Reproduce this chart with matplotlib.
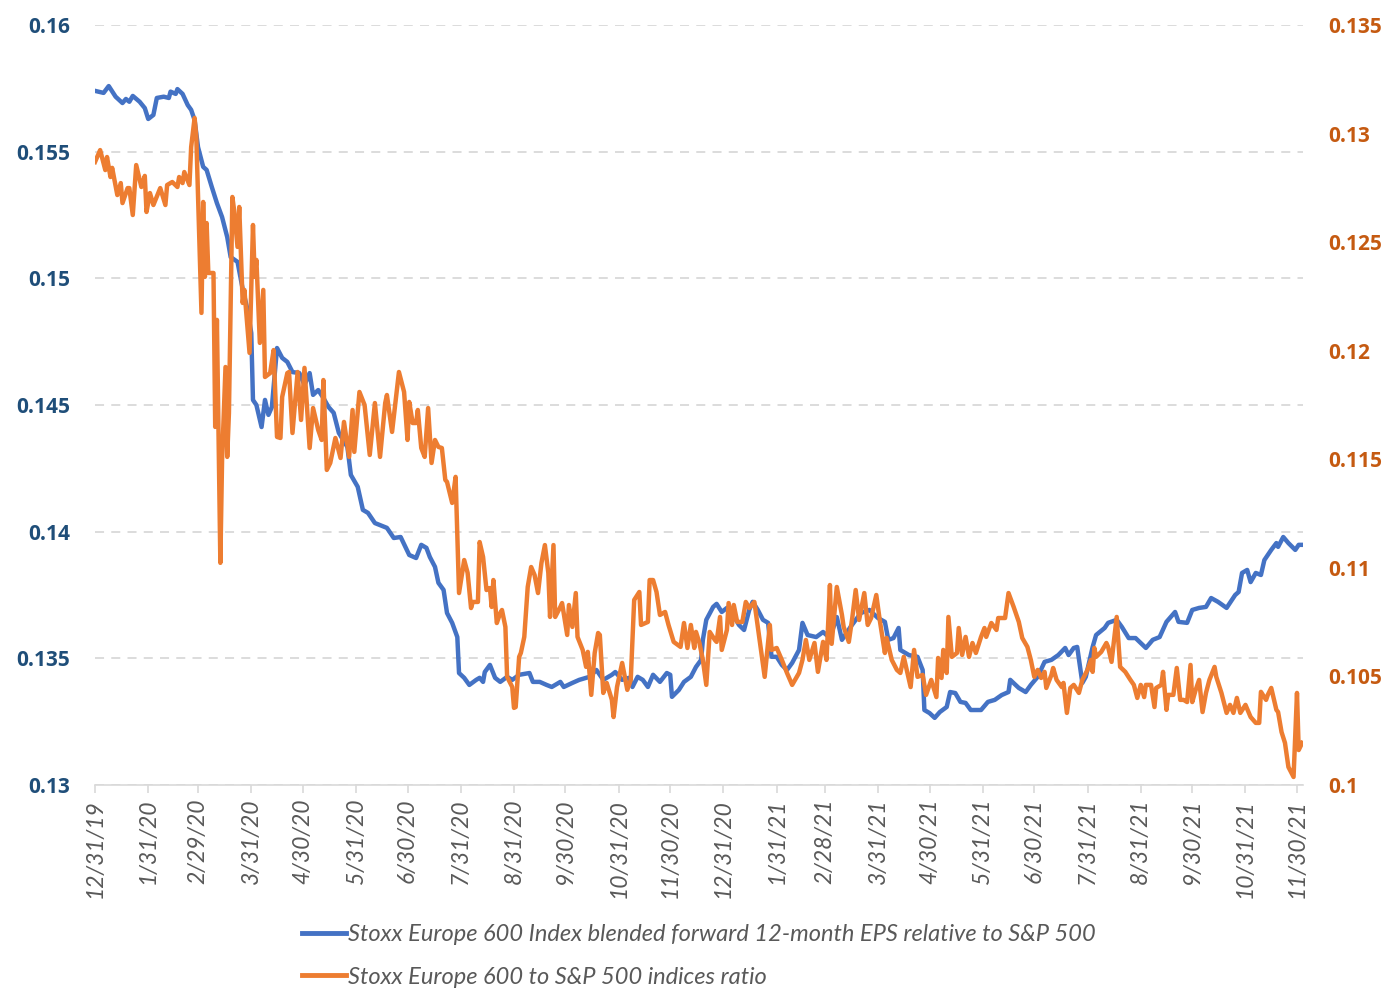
import numpy as np
import pandas as pd
import matplotlib
matplotlib.use('Agg')
import matplotlib.pyplot as plt

# days counted from 12/31/2019
start_date = '2019-12-31'

eps_days = [
    0, 5, 8, 12, 16, 18, 20, 22, 26, 29,
    31, 34, 36, 40, 43, 44, 47, 48, 51, 54,
    56, 58, 60, 63, 65, 68, 71, 74, 77, 79,
    83, 86, 89, 91, 92, 94, 97, 99, 101, 103,
    106, 109, 112, 115, 119, 122, 125, 127, 130, 133,
    136, 139, 142, 147, 149, 153, 156, 159, 163, 170,
    174, 178, 183, 187, 190, 193, 195, 198, 200, 203,
    205, 208, 211, 212, 215, 218, 222, 224, 226, 227,
    230, 233, 236, 240, 243, 247, 253, 255, 259, 263,
    266, 271, 273, 278, 282, 288, 292, 296, 301, 303,
    307, 311, 313, 316, 319, 322, 325, 329, 333, 335,
    336, 340, 343, 347, 350, 353, 354, 356, 360, 362,
    365, 368, 371, 375, 378, 381, 383, 386, 389, 392,
    394, 397, 400, 403, 406, 410, 412, 415, 420, 424,
    428, 432, 435, 440, 446, 451, 456, 460, 462, 465,
    468, 469, 474, 479, 482, 483, 486, 489, 492, 496,
    498, 501, 504, 507, 510, 516, 520, 524, 528, 532,
    533, 538, 542, 545, 549, 553, 557, 561, 565, 567,
    570, 572, 575, 577, 581, 583, 588, 590, 595, 598,
    602, 606, 612, 616, 620, 624, 629, 631, 636, 639,
    643, 647, 650, 654, 659, 664, 666, 668, 671, 673,
    676, 679, 681, 685, 688, 689, 692, 695, 699, 701,
    703,
]
eps_ratio = [
    0.15740, 0.15732, 0.15759, 0.15717, 0.15692, 0.15708, 0.15697, 0.15720, 0.15697, 0.15672,
    0.15629, 0.15645, 0.15712, 0.15717, 0.15712, 0.15737, 0.15728, 0.15747, 0.15728, 0.15684,
    0.15665, 0.15625, 0.15518, 0.15440, 0.15428, 0.15361, 0.15297, 0.15242, 0.15163, 0.15084,
    0.15065, 0.14958, 0.14871, 0.14784, 0.14520, 0.14500, 0.14413, 0.14520, 0.14461, 0.14492,
    0.14725, 0.14686, 0.14670, 0.14630, 0.14626, 0.14579, 0.14626, 0.14540, 0.14559, 0.14528,
    0.14492, 0.14469, 0.14390, 0.14334, 0.14224, 0.14177, 0.14086, 0.14074, 0.14034, 0.14015,
    0.13975, 0.13979, 0.13908, 0.13896, 0.13948, 0.13936, 0.13900, 0.13861, 0.13798, 0.13770,
    0.13679, 0.13640, 0.13584, 0.13442, 0.13423, 0.13395, 0.13415, 0.13423, 0.13407, 0.13446,
    0.13474, 0.13423, 0.13407, 0.13427, 0.13415, 0.13435, 0.13442, 0.13407, 0.13407, 0.13395,
    0.13387, 0.13407, 0.13387, 0.13403, 0.13415, 0.13427, 0.13454, 0.13415, 0.13435, 0.13446,
    0.13415, 0.13423, 0.13387, 0.13427, 0.13415, 0.13387, 0.13435, 0.13407, 0.13442, 0.13435,
    0.13348, 0.13375, 0.13407, 0.13427, 0.13466, 0.13494, 0.13573, 0.13652, 0.13703, 0.13715,
    0.13683, 0.13699, 0.13679, 0.13632, 0.13612, 0.13691, 0.13723, 0.13691, 0.13652, 0.13640,
    0.13506, 0.13506, 0.13474, 0.13454, 0.13482, 0.13533, 0.13640, 0.13592, 0.13584, 0.13604,
    0.13580, 0.13663, 0.13573, 0.13624, 0.13679, 0.13691, 0.13659, 0.13644, 0.13573, 0.13580,
    0.13620, 0.13533, 0.13513, 0.13506, 0.13454, 0.13296, 0.13284, 0.13265, 0.13288, 0.13308,
    0.13367, 0.13363, 0.13328, 0.13324, 0.13296, 0.13296, 0.13328, 0.13336, 0.13355, 0.13367,
    0.13415, 0.13383, 0.13367, 0.13395, 0.13427, 0.13486, 0.13494, 0.13513, 0.13541, 0.13513,
    0.13541, 0.13545, 0.13403, 0.13427, 0.13545, 0.13592, 0.13620, 0.13640, 0.13652, 0.13624,
    0.13580, 0.13580, 0.13541, 0.13573, 0.13584, 0.13644, 0.13683, 0.13644, 0.13640, 0.13691,
    0.13699, 0.13703, 0.13738, 0.13723, 0.13699, 0.13750, 0.13762, 0.13837, 0.13849, 0.13801,
    0.13837, 0.13829, 0.13888, 0.13928, 0.13955, 0.13940, 0.13979, 0.13955, 0.13928, 0.13948,
    0.13948,
]

index_days = [
    0, 3, 6, 7, 9, 10, 13, 15, 16, 19,
    20, 22, 24, 27, 29, 30, 32, 34, 38, 41,
    42, 45, 48, 49, 51, 52, 55, 56, 58, 59,
    62, 63, 64, 65, 66, 69, 70, 71, 73, 74,
    76, 77, 78, 80, 81, 83, 84, 86, 87, 90,
    92, 93, 94, 96, 98, 99, 102, 104, 106, 108,
    109, 112, 113, 115, 118, 120, 122, 125, 127, 130,
    132, 133, 135, 137, 140, 143, 145, 148, 150, 151,
    154, 157, 160, 163, 166, 169, 170, 173, 177, 180,
    182, 183, 185, 187, 188, 190, 192, 194, 196, 198,
    200, 202, 204, 205, 208, 210, 212, 215, 217, 219,
    220, 223, 224, 226, 228, 230, 231, 232, 234, 236,
    237, 239, 240, 243, 244, 245, 247, 248, 250, 252,
    254, 256, 258, 260, 262, 264, 265, 267, 268, 271,
    272, 275, 276, 278, 280, 281, 284, 286, 287, 289,
    291, 293, 294, 296, 298, 301, 302, 304, 307, 310,
    312, 314, 317, 318, 322, 323, 325, 327, 329, 332,
    334, 337, 341, 343, 345, 347, 349, 350, 352, 354,
    356, 358, 361, 362, 364, 365, 368, 369, 371, 372,
    374, 377, 379, 381, 384, 386, 390, 393, 394, 397,
    400, 403, 406, 410, 412, 414, 416, 419, 421, 424,
    426, 428, 429, 432, 435, 436, 439, 441, 443, 445,
    448, 450, 452, 455, 457, 460, 461, 464, 467, 469,
    471, 473, 475, 477, 479, 482, 484, 487, 490, 491,
    493, 494, 496, 497, 499, 502, 503, 505, 507, 509,
    511, 513, 516, 518, 519, 522, 525, 526, 530, 532,
    535, 538, 540, 543, 545, 547, 549, 551, 553, 554,
    557, 558, 560, 563, 564, 566, 568, 570, 573, 575,
    578, 580, 581, 582, 583, 586, 589, 590, 592, 595,
    597, 600, 603, 605, 607, 609, 611, 612, 615, 617,
    618, 621, 622, 624, 625, 628, 630, 632, 634, 636,
    638, 639, 641, 643, 645, 647, 649, 652, 653, 656,
    659, 661, 663, 665, 667, 670, 673, 676, 678, 679,
    682, 683, 685, 688, 689, 691, 693, 695, 698, 700,
    701, 703,
]
index_ratio = [
    0.12869, 0.12924, 0.12832, 0.12892, 0.12800, 0.12842, 0.12717, 0.12772, 0.12680, 0.12749,
    0.12749, 0.12625, 0.12855, 0.12754, 0.12805, 0.12639, 0.12726, 0.12671, 0.12749, 0.12671,
    0.12763, 0.12777, 0.12754, 0.12800, 0.12772, 0.12823, 0.12763, 0.12938, 0.13072, 0.12984,
    0.12174, 0.12685, 0.12340, 0.12588, 0.12358, 0.12358, 0.11649, 0.12142, 0.11023, 0.11497,
    0.11925, 0.11511, 0.11713, 0.12708, 0.12648, 0.12478, 0.12662, 0.12220, 0.12280, 0.11990,
    0.12579, 0.12340, 0.12418, 0.12036, 0.12280, 0.11879, 0.11897, 0.12003, 0.11603, 0.11598,
    0.11787, 0.11897, 0.11902, 0.11621, 0.11902, 0.11681, 0.11921, 0.11552, 0.11736, 0.11635,
    0.11589, 0.11865, 0.11451, 0.11483, 0.11598, 0.11506, 0.11672, 0.11511, 0.11727, 0.11534,
    0.11810, 0.11750, 0.11520, 0.11759, 0.11511, 0.11759, 0.11796, 0.11626, 0.11902, 0.11810,
    0.11589, 0.11764, 0.11667, 0.11667, 0.11727, 0.11552, 0.11511, 0.11736, 0.11483, 0.11589,
    0.11557, 0.11552, 0.11405, 0.11396, 0.11299, 0.11419, 0.10884, 0.11036, 0.10977, 0.10815,
    0.10843, 0.10843, 0.11119, 0.11050, 0.10898, 0.10907, 0.10820, 0.10944, 0.10746, 0.10792,
    0.10806, 0.10728, 0.10498, 0.10451, 0.10355, 0.10359, 0.10590, 0.10608, 0.10682, 0.10912,
    0.11004, 0.10967, 0.10884, 0.11023, 0.11105, 0.10977, 0.10774, 0.11105, 0.10774, 0.10820,
    0.10838, 0.10691, 0.10829, 0.10728, 0.10884, 0.10682, 0.10622, 0.10544, 0.10613, 0.10415,
    0.10608, 0.10700, 0.10691, 0.10424, 0.10470, 0.10392, 0.10313, 0.10451, 0.10562, 0.10438,
    0.10484, 0.10852, 0.10889, 0.10737, 0.10751, 0.10944, 0.10944, 0.10889, 0.10783, 0.10797,
    0.10737, 0.10659, 0.10636, 0.10746, 0.10631, 0.10737, 0.10631, 0.10705, 0.10654, 0.10576,
    0.10461, 0.10705, 0.10668, 0.10659, 0.10774, 0.10622, 0.10714, 0.10838, 0.10737, 0.10829,
    0.10751, 0.10751, 0.10843, 0.10815, 0.10843, 0.10728, 0.10498, 0.10737, 0.10622, 0.10631,
    0.10576, 0.10516, 0.10461, 0.10516, 0.10576, 0.10668, 0.10576, 0.10654, 0.10521, 0.10659,
    0.10576, 0.10921, 0.10650, 0.10912, 0.10783, 0.10728, 0.10659, 0.10769, 0.10898, 0.10760,
    0.10884, 0.10737, 0.10769, 0.10875, 0.10760, 0.10608, 0.10677, 0.10576, 0.10530, 0.10516,
    0.10590, 0.10521, 0.10451, 0.10622, 0.10498, 0.10507, 0.10415, 0.10484, 0.10405, 0.10585,
    0.10493, 0.10622, 0.10516, 0.10774, 0.10590, 0.10608, 0.10723, 0.10599, 0.10682, 0.10590,
    0.10654, 0.10608, 0.10682, 0.10723, 0.10682, 0.10746, 0.10714, 0.10769, 0.10769, 0.10884,
    0.10820, 0.10751, 0.10677, 0.10636, 0.10576, 0.10498, 0.10530, 0.10493, 0.10521, 0.10447,
    0.10507, 0.10539, 0.10484, 0.10451, 0.10470, 0.10332, 0.10447, 0.10461, 0.10424, 0.10484,
    0.10530, 0.10576, 0.10521, 0.10631, 0.10590, 0.10613, 0.10654, 0.10636, 0.10567, 0.10774,
    0.10544, 0.10521, 0.10484, 0.10461, 0.10401, 0.10461, 0.10405, 0.10461, 0.10461, 0.10359,
    0.10447, 0.10461, 0.10521, 0.10346, 0.10415, 0.10415, 0.10539, 0.10392, 0.10392, 0.10382,
    0.10553, 0.10382, 0.10438, 0.10484, 0.10336, 0.10424, 0.10484, 0.10544, 0.10498, 0.10424,
    0.10332, 0.10369, 0.10332, 0.10401, 0.10332, 0.10369, 0.10313, 0.10286, 0.10286, 0.10429,
    0.10392, 0.10415, 0.10447, 0.10346, 0.10336, 0.10244, 0.10194, 0.10083, 0.10037, 0.10424,
    0.10161, 0.10194,
]

left_ticks = [0.13, 0.135, 0.14, 0.145, 0.15, 0.155, 0.16]
right_ticks = [0.1, 0.105, 0.11, 0.115, 0.12, 0.125, 0.13, 0.135]

eps_label = 'Stoxx Europe 600 Index blended forward 12-month EPS relative to S&P 500'
index_label = 'Stoxx Europe 600 to S&P 500 indices ratio'

assert len(eps_days) == len(eps_ratio)
assert len(index_days) == len(index_ratio)

plt.rcParams['font.family'] = ['Lato', 'DejaVu Sans']
bold_family = ['Open Sans', 'DejaVu Sans']

t0 = pd.Timestamp(start_date)
eps_dates = t0 + pd.to_timedelta(eps_days, unit='D')
index_dates = t0 + pd.to_timedelta(index_days, unit='D')
month_ends = pd.date_range(start_date, '2021-11-30', freq=pd.offsets.MonthEnd())

blue = '#4472C4'
orange = '#ED7D31'
grid_col = '#D9D9D9'

fig = plt.figure(figsize=(13.98, 10.07), dpi=100)
ax = fig.add_axes([95 / 1398, 1 - 785 / 1007, 1208 / 1398, 760 / 1007])
ax2 = ax.twinx()

l1, = ax.plot(eps_dates, eps_ratio, color=blue, lw=3.2, solid_joinstyle='round')
l2, = ax2.plot(index_dates, index_ratio, color=orange, lw=3.2, solid_joinstyle='round')

ax.set_ylim(0.13, 0.16)
ax2.set_ylim(0.1, 0.135)
ax.set_xlim(t0, t0 + pd.Timedelta(days=703.5))

# tick labels like Excel "General" format
ax.set_yticks(left_ticks, [f'{v:g}' for v in left_ticks], family=bold_family,
              fontsize=15, fontweight='bold', color='#1F4E79')
ax2.set_yticks(right_ticks, [f'{v:g}' for v in right_ticks], family=bold_family,
               fontsize=15, fontweight='bold', color='#C55A11')

ax.grid(axis='y', color=grid_col, linestyle=(0, (5, 4)), linewidth=1.3)
ax.set_axisbelow(True)

for s in ['top', 'left', 'right']:
    ax.spines[s].set_visible(False)
for s in ax2.spines.values():
    s.set_visible(False)
ax.spines['bottom'].set_color(grid_col)
ax.spines['bottom'].set_linewidth(1.2)

ax.set_xticks(month_ends)
ax.set_xticklabels([f'{d.month}/{d.day}/{d.strftime("%y")}' for d in month_ends],
                   rotation=90, fontsize=16.5, style='italic', color='#595959')
ax.tick_params(axis='x', direction='out', length=6, width=1.2, color=grid_col, pad=4)

ax.tick_params(axis='y', length=0, pad=18)
ax2.tick_params(axis='y', length=0, pad=18)

leg = fig.legend([l1, l2], [eps_label, index_label], loc='upper center',
                 bbox_to_anchor=(0.5, 1 - 903 / 1007), frameon=False, ncol=1,
                 handlelength=1.85, handletextpad=0.1, labelspacing=0.9,
                 prop={'size': 17, 'style': 'italic'})
for txt in leg.get_texts():
    txt.set_color('#595959')
for h in leg.get_lines():
    h.set_linewidth(3.5)

fig.savefig('out.png', dpi=100)
